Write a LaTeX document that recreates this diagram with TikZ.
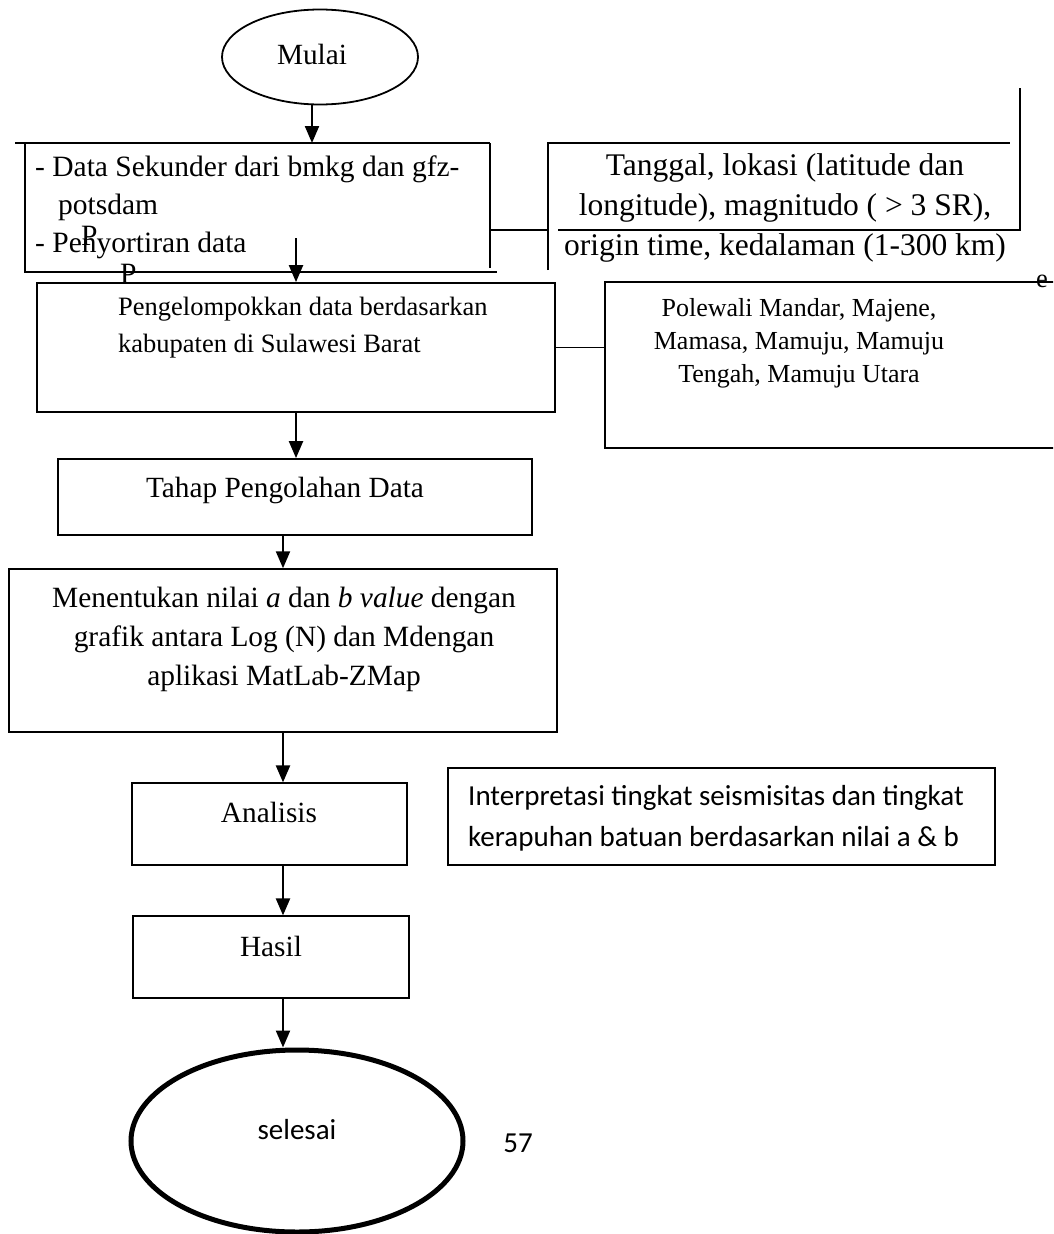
\documentclass[tikz,border=0pt]{standalone}
\usepackage{fontspec}
\setmainfont{Liberation Serif}
\newfontfamily\calibrifont{Carlito}
\usetikzlibrary{arrows.meta, shapes.geometric, positioning}

\tikzset{
  arr/.style={line width=2.2pt, -{Triangle[width=14pt,length=17pt]}},
  box/.style={draw, line width=1.8pt, inner sep=0pt},
  thinbox/.style={draw, line width=1.2pt, inner sep=0pt},
  bigtxt/.style={font=\fontsize{29.5}{40}\selectfont, inner sep=0pt},
  midtxt/.style={font=\fontsize{29.3}{39}\selectfont, inner sep=0pt},
  smalltxt/.style={font=\fontsize{26.5}{37}\selectfont, inner sep=0pt},
  caltxt/.style={font=\calibrifont\fontsize{29}{41}\selectfont, inner sep=0pt},
}

\begin{document}
\begin{tikzpicture}[x=1pt, y=-1pt]
  \useasboundingbox (0,0) rectangle (1053,1234);
  \clip (0,0) rectangle (1053,1234);
  % start
  \node[ellipse, draw, line width=1.8pt, minimum width=196pt, minimum height=95pt] (mulai) at (320,57) {};
  \node[midtxt] (mulaitxt) at (312,54) {Mulai};
  % data box (open frame)
  \draw[line width=2.4pt] (15,143) -- (490,143);
  \draw[line width=2.4pt] (25,143) -- (25,272) -- (497,272);
  \draw[line width=2.4pt] (490,143) -- (490,268);
  \coordinate (sektop) at (312,143);
  \coordinate (sekout) at (296,238);
  \coordinate (sekR) at (490,230);
  \node[bigtxt, anchor=base west] (sek1) at (35,176) {- Data Sekunder dari bmkg dan gfz-};
  \node[bigtxt, anchor=base west] (sek2) at (58,214) {potsdam};
  \node[bigtxt, anchor=base west] (sek3) at (35,252) {- Penyortiran data};
  \node[bigtxt, anchor=base west] (sekP1) at (81,245) {P};
  \node[bigtxt, anchor=base west] (sekP2) at (120,283) {P};
  % parameter box (open frame)
  \draw[line width=2.4pt] (548,270) -- (548,143) -- (1010,143);
  \draw[line width=1.8pt] (1020,88) -- (1020,230) -- (558,230);
  \coordinate (tglL) at (548,230);
  \node[bigtxt, font=\fontsize{31.5}{40}\selectfont, align=center] (tanggal) at (785,208) {Tanggal, lokasi (latitude dan\\longitude), magnitudo ( > 3 SR),\\origin time, kedalaman (1-300 km)};
  \draw[line width=2.2pt] (sekR) -- (tglL);
  % grouping
  \node[box, minimum width=518pt, minimum height=129pt] (kelompok) at (296,347.5) {};
  \node[smalltxt, align=left, anchor=west] (kelompoktxt) at (118,328) {Pengelompokkan data berdasarkan\\kabupaten di Sulawesi Barat};
  \node[box, minimum width=470pt, minimum height=166pt] (polewali) at (840,365) {};
  \node[smalltxt, font=\fontsize{26}{33}\selectfont, align=center] (polewalitxt) at (799,343) {Polewali Mandar, Majene,\\Mamasa, Mamuju, Mamuju\\Tengah, Mamuju Utara};
  \node[smalltxt] (polewaliE) at (1042,281) {e};
  \draw[line width=1pt] (kelompok.east) -- (kelompok.east -| polewali.west);
  % processing
  \node[box, minimum width=474pt, minimum height=76pt] (tahap) at (295,497) {};
  \node[midtxt] (tahaptxt) at (285,490) {Tahap Pengolahan Data};
  \node[box, line width=1.5pt, minimum width=548pt, minimum height=163pt] (nilai) at (283,650.5) {};
  \node[smalltxt, font=\fontsize{29.4}{39}\selectfont, align=center] (nilaitxt) at (284,639) {Menentukan nilai \textit{a} dan \textit{b value} dengan\\grafik antara Log (N) dan Mdengan\\aplikasi MatLab-ZMap};
  % analysis
  \node[thinbox, minimum width=275pt, minimum height=82pt] (analisis) at (269.5,824) {};
  \node[midtxt] (analisistxt) at (269,812) {Analisis};
  \node[thinbox, minimum width=547pt, minimum height=97pt] (interp) at (721.5,816.5) {};
  \node[caltxt, align=left, anchor=west] (interptxt) at (468,818) {Interpretasi tingkat seismisitas dan tingkat\\kerapuhan batuan berdasarkan nilai a \& b};
  \node[thinbox, minimum width=276pt, minimum height=82pt] (hasil) at (271,957) {};
  \node[midtxt] (hasiltxt) at (271,946) {Hasil};
  % end
  \node[ellipse, draw, line width=5pt, minimum width=332pt, minimum height=182pt] (selesai) at (297,1141) {};
  \node[caltxt] (selesaitxt) at (297,1130) {selesai};
  \node[caltxt] (hal) at (518,1143) {57};
  % arrows
  \draw[arr] (mulaitxt |- mulai.south) -- (sektop);
  \draw[arr] (sekout) -- (kelompok.north);
  \draw[arr] (kelompok.south) -- (kelompok.south |- tahap.north);
  \draw[arr] (tahap.south -| nilai.south) -- (nilai.north);
  \draw[arr] (nilai.south) -- (nilai.south |- analisis.north);
  \draw[arr] (analisis.south -| nilai.south) -- (nilai.south |- hasil.north);
  \draw[arr] (hasil.south -| nilai.south) -- (nilai.south |- selesai.north);
\end{tikzpicture}
\end{document}
